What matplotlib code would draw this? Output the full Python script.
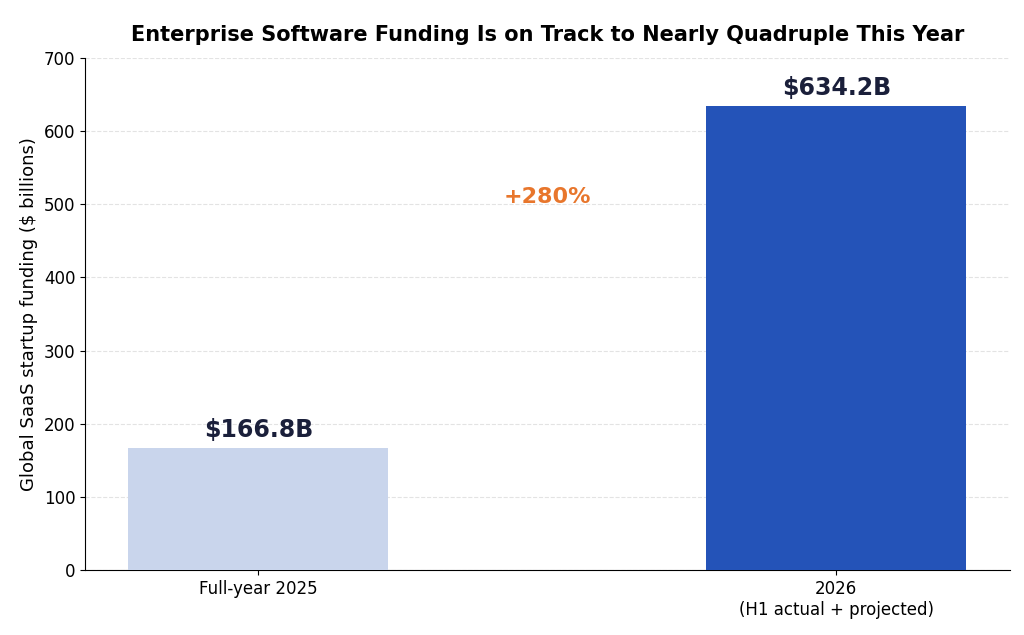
import matplotlib.pyplot as plt

labels = ["Full-year 2025", "2026\n(H1 actual + projected)"]
values = [166.8, 634.2]
colors = ["#c9d5ec", "#2453b8"]

fig, ax = plt.subplots(figsize=(10.24, 6.35), dpi=100)
fig.subplots_adjust(left=0.083, right=0.986, top=0.909, bottom=0.102)

ax.bar([0, 1], values, width=0.45, color=colors, zorder=3)
for x, v in enumerate(values):
    ax.text(x, v + 8, f"${v:.1f}B", ha="center", va="bottom",
            fontsize=17, fontweight="bold", color="#1a1f3a")

growth = (values[1] / values[0] - 1) * 100
ax.text(0.5, 510, f"+{growth:.0f}%", ha="center", va="center",
        fontsize=16, fontweight="bold", color="#e8762c")

ax.set_xticks([0, 1], labels, fontsize=12)
ax.tick_params(axis="y", labelsize=12)
ax.set_xlim(-0.3, 1.3)
ax.set_ylim(0, 700)
ax.set_ylabel("Global SaaS startup funding ($ billions)", fontsize=13)
ax.set_title("Enterprise Software Funding Is on Track to Nearly Quadruple This Year",
             fontsize=15, fontweight="bold", pad=12)
ax.grid(axis="y", linestyle="--", color="#e3e3e3", zorder=0)
ax.spines["top"].set_visible(False)
ax.spines["right"].set_visible(False)

fig.savefig("out.png")
